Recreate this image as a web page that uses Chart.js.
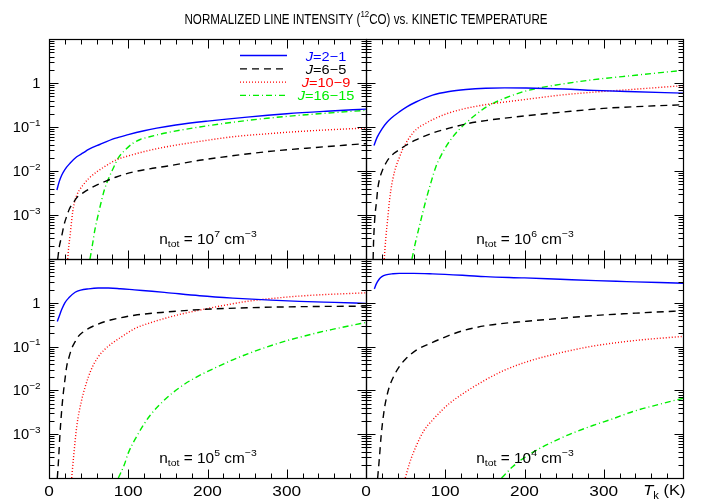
<!DOCTYPE html>
<html>
<head>
<meta charset="utf-8">
<title>Normalized line intensity vs kinetic temperature</title>
<script src="https://cdn.jsdelivr.net/npm/chart.js@4.4.0/dist/chart.umd.min.js"></script>
<style>
  html, body { margin: 0; padding: 0; background: #fff; }
  #wrap { position: relative; width: 701px; height: 499px; }
  #wrap canvas { position: absolute; left: 0; top: 0; }
</style>
</head>
<body>
<div id="wrap">
  <canvas id="n7" width="701" height="499"></canvas>
  <canvas id="n6" width="701" height="499"></canvas>
  <canvas id="n5" width="701" height="499"></canvas>
  <canvas id="n4" width="701" height="499"></canvas>
</div>
<script>
// [T_k (K), normalized intensity] for each CO transition, one list per density
const n7_J2_1 = [[10, 0.0037], [13, 0.0058], [16, 0.0080], [20, 0.0108], [26.5, 0.015], [35, 0.021], [43, 0.0257], [50, 0.031], [64, 0.040], [83, 0.055], [100, 0.067], [120, 0.082], [136, 0.094], [160, 0.111], [200, 0.136], [250, 0.168], [300, 0.20], [350, 0.228], [400, 0.255]];
const n7_J6_5 = [[11, 1.0e-4], [13, 1.9e-4], [16, 3.3e-4], [19, 6.0e-4], [22.3, 9.3e-4], [26, 1.4e-3], [30.7, 1.9e-3], [36, 2.6e-3], [42, 3.1e-3], [49.6, 3.8e-3], [60, 4.8e-3], [71, 5.8e-3], [85, 7.3e-3], [106, 9.5e-3], [127, 0.0112], [150, 0.013], [190, 0.0175], [230, 0.022], [275, 0.0275], [325, 0.033], [400, 0.042]];
const n7_J10_9 = [[23.6, 1.0e-4], [25, 2.0e-4], [26.5, 3.3e-4], [28.6, 7.5e-4], [30, 1.2e-3], [32, 1.9e-3], [35, 2.8e-3], [38, 3.6e-3], [43, 4.8e-3], [50, 6.7e-3], [60, 9.5e-3], [70, 0.0125], [77, 0.015], [85, 0.018], [100, 0.022], [125, 0.029], [150, 0.036], [190, 0.047], [232, 0.060], [275, 0.070], [325, 0.081], [400, 0.095]];
const n7_J16_15 = [[51.7, 1.0e-4], [55, 2.2e-4], [58, 4.7e-4], [62, 1.0e-3], [66.5, 2.2e-3], [70, 3.8e-3], [74.8, 6.5e-3], [80, 0.0105], [87.5, 0.0198], [96, 0.030], [106, 0.043], [115, 0.052], [127, 0.060], [150, 0.075], [190, 0.10], [232, 0.128], [275, 0.158], [325, 0.19], [400, 0.24]];

const n6_J2_1 = [[10, 0.038], [14, 0.058], [20, 0.09], [26, 0.125], [32, 0.16], [42, 0.22], [52, 0.29], [63, 0.37], [84, 0.53], [105, 0.64], [126, 0.71], [151, 0.76], [175, 0.775], [202, 0.77], [250, 0.73], [287, 0.68], [330, 0.64], [400, 0.59]];
const n6_J6_5 = [[9, 1.0e-4], [9.5, 2.3e-4], [11, 8.0e-4], [13.5, 2.2e-3], [14.7, 3.8e-3], [18, 7.5e-3], [21, 0.0107], [25, 0.015], [29.4, 0.0198], [35, 0.025], [42, 0.0305], [50, 0.038], [63, 0.051], [84, 0.073], [105, 0.094], [126, 0.117], [151, 0.14], [200, 0.178], [250, 0.22], [300, 0.265], [350, 0.295], [400, 0.32]];
const n6_J10_9 = [[23, 1.0e-4], [25, 3.0e-4], [27.3, 7.9e-4], [29.5, 2.0e-3], [31.5, 3.8e-3], [34, 6.8e-3], [37.9, 0.0127], [42, 0.020], [46, 0.0305], [55, 0.058], [63, 0.087], [75, 0.12], [84, 0.147], [100, 0.195], [120, 0.25], [150, 0.32], [175, 0.37], [200, 0.42], [245, 0.53], [287, 0.62], [329, 0.70], [400, 0.87]];
const n6_J16_15 = [[58, 1.0e-4], [62, 2.2e-4], [67.3, 5.5e-4], [75.7, 2.2e-3], [82, 5.5e-3], [88.3, 0.0127], [95, 0.023], [101, 0.036], [113.6, 0.073], [126, 0.123], [140, 0.20], [151, 0.28], [161, 0.35], [175, 0.45], [203, 0.67], [245, 0.93], [287, 1.19], [340, 1.5], [400, 1.94]];

const n5_J2_1 = [[10.5, 0.376], [13, 0.5], [16, 0.7], [20, 1.0], [25, 1.3], [33, 1.74], [40, 1.95], [50, 2.08], [62, 2.17], [75, 2.18], [90, 2.1], [108, 1.97], [130, 1.83], [148, 1.71], [190, 1.45], [232, 1.28], [280, 1.15], [316, 1.08], [360, 1.02], [400, 0.97]];
const n5_J6_5 = [[10.5, 1.0e-4], [12, 2.5e-4], [13.9, 1.05e-3], [16, 3.5e-3], [18, 8.5e-3], [20, 0.017], [22.3, 0.035], [25, 0.055], [28.6, 0.09], [33, 0.13], [37, 0.171], [43, 0.215], [50, 0.26], [58, 0.305], [70, 0.37], [79, 0.41], [108, 0.52], [150, 0.62], [190, 0.70], [250, 0.77], [316, 0.815], [400, 0.84]];
const n5_J10_9 = [[28.6, 1.0e-4], [31, 3.0e-4], [35, 1.5e-3], [41.2, 6.0e-3], [49.6, 0.020], [55, 0.035], [62, 0.058], [70, 0.085], [79, 0.117], [90, 0.16], [108, 0.256], [130, 0.36], [148, 0.45], [170, 0.57], [190, 0.68], [220, 0.87], [253, 1.1], [290, 1.3], [330, 1.48], [400, 1.69]];
const n5_J16_15 = [[87.5, 1.0e-4], [95, 2.0e-4], [100, 3.7e-4], [110, 8.5e-4], [127, 2.6e-3], [148, 6.6e-3], [170, 0.0135], [190, 0.022], [210, 0.033], [232, 0.050], [255, 0.073], [275, 0.098], [296, 0.13], [316, 0.163], [340, 0.21], [359, 0.25], [380, 0.30], [400, 0.355]];

const n4_J2_1 = [[10.5, 2.08], [13, 2.7], [16.8, 3.5], [20, 3.95], [25, 4.33], [34, 4.6], [42, 4.7], [60, 4.7], [84, 4.57], [126, 4.2], [151, 3.96], [200, 3.7], [245, 3.44], [290, 3.2], [329, 3.05], [370, 2.9], [400, 2.8]];
const n4_J6_5 = [[14.7, 1.0e-4], [17, 3.0e-4], [19, 8.8e-4], [23, 3.6e-3], [26, 7.0e-3], [29.4, 0.012], [35, 0.021], [42, 0.035], [50, 0.052], [63, 0.082], [84, 0.125], [105, 0.18], [122, 0.23], [151, 0.30], [203, 0.38], [245, 0.44], [287, 0.51], [340, 0.58], [400, 0.66]];
const n4_J10_9 = [[49.6, 1.0e-4], [55, 2.2e-4], [63, 5.2e-4], [73, 1.2e-3], [84, 2.1e-3], [95, 3.4e-3], [105, 5.0e-3], [126, 9.3e-3], [151, 0.0175], [175, 0.029], [203, 0.045], [245, 0.072], [287, 0.103], [340, 0.138], [400, 0.171]];
const n4_J16_15 = [[171, 1.0e-4], [185, 1.8e-4], [203, 3.2e-4], [245, 8.0e-4], [287, 1.6e-3], [310, 2.2e-3], [337, 3.3e-3], [370, 4.8e-3], [400, 6.6e-3]];

const transitions = ['2\u22121', '6\u22125', '10\u22129', '16\u221215'];
const densityExp = [7, 6, 5, 4];
const xTickLabels = [0, 100, 200, 300];
const yTickExp = [0, -1, -2, -3];

// line looks per transition
const lineColors = ['#0000ff', '#000000', '#ff0000', '#00ee00'];
const lineDashes = [[], [7, 5], [1, 2], [6, 3, 1, 3]];

const FONT = '"Liberation Sans", Arial, sans-serif';

// ---- small rich-text helper: [{t, kind}] with kind '', 'sup', 'sub', 'it'
function seg(t, kind) { return { t: t, kind: kind || '' }; }

function segFont(p, size) {
  const small = p.kind === 'sup' || p.kind === 'sub';
  const px = small ? size * 0.68 : size;
  return (p.kind === 'it' ? 'italic ' : '') + px.toFixed(1) + 'px ' + FONT;
}

function drawRich(ctx, parts, x, y, size, align, sx) {
  sx = sx || 1;
  let w = 0;
  parts.forEach(p => { ctx.font = segFont(p, size); w += ctx.measureText(p.t).width; });
  ctx.save();
  ctx.translate(x, y);
  ctx.scale(sx, 1);
  let cx = align === 'center' ? -w / 2 : align === 'right' ? -w : 0;
  ctx.textAlign = 'left';
  ctx.textBaseline = 'alphabetic';
  parts.forEach(p => {
    ctx.font = segFont(p, size);
    const dy = p.kind === 'sup' ? -size * 0.45 : p.kind === 'sub' ? size * 0.28 : 0;
    ctx.fillText(p.t, cx, dy);
    cx += ctx.measureText(p.t).width;
  });
  ctx.restore();
}

// ---- frame, inward ticks, labels, legend and title
const framePlugin = {
  id: 'frame',
  afterDraw(chart, args, opts) {
    const ctx = chart.ctx;
    const xs = chart.scales.x, ys = chart.scales.y;
    const L = Math.round(xs.getPixelForValue(0)) + 0.5;
    const R = Math.round(xs.getPixelForValue(400)) + 0.5;
    const T = Math.round(ys.getPixelForValue(10)) + 0.5;
    const B = Math.round(ys.getPixelForValue(1e-4)) + 0.5;

    ctx.save();
    ctx.strokeStyle = '#000';
    ctx.lineWidth = 1.2;
    ctx.setLineDash([]);
    ctx.strokeRect(L, T, R - L, B - T);

    ctx.lineWidth = 1;
    ctx.beginPath();
    for (let v = 0; v <= 400; v += 20) {
      const len = v % 100 === 0 ? 9 : 5;
      const px = Math.round(xs.getPixelForValue(v)) + 0.5;
      ctx.moveTo(px, T); ctx.lineTo(px, T + len);
      ctx.moveTo(px, B); ctx.lineTo(px, B - len);
    }
    for (let e = -4; e <= 1; e++) {
      for (let m = 1; m <= 9; m++) {
        const v = m * Math.pow(10, e);
        if (v > 10) break;
        const len = m === 1 ? 9 : 5;
        const py = Math.round(ys.getPixelForValue(v)) + 0.5;
        ctx.moveTo(L, py); ctx.lineTo(L + len, py);
        ctx.moveTo(R, py); ctx.lineTo(R - len, py);
      }
    }
    ctx.stroke();

    ctx.fillStyle = '#000';
    if (opts.col === 0) {
      yTickExp.forEach(e => {
        const py = ys.getPixelForValue(Math.pow(10, e));
        const parts = e === 0 ? [seg('1')] : [seg('10'), seg('\u2212' + (-e), 'sup')];
        drawRich(ctx, parts, L - 9, py + 5, 14, 'right', 1.05);
      });
    }
    if (opts.row === 1) {
      xTickLabels.forEach(v => {
        drawRich(ctx, [seg(String(v))], xs.getPixelForValue(v), B + 17, 15, 'center', 1.15);
      });
      if (opts.col === 1) {
        drawRich(ctx, [seg('T', 'it'), seg('k', 'sub'), seg(' (K)')], R + 2, B + 16, 15, 'right', 1.1);
      }
    }

    // density note at the foot of each panel
    drawRich(ctx, [seg('n'), seg('tot', 'sub'), seg(' = 10'), seg(String(opts.exp), 'sup'),
                   seg(' cm'), seg('\u22123', 'sup')],
             (L + R) / 2, B - 16, 14, 'center', 1.1);

    if (opts.legend) {
      chart.data.datasets.forEach((ds, i) => {
        const y = 55.5 + i * 13.3;
        ctx.strokeStyle = ds.borderColor;
        ctx.lineWidth = 1.3;
        ctx.setLineDash(ds.borderDash);
        ctx.beginPath();
        ctx.moveTo(240, y); ctx.lineTo(287, y);
        ctx.stroke();
        ctx.setLineDash([]);
        ctx.fillStyle = ds.borderColor;
        drawRich(ctx, [seg('J', 'it'), seg('=' + ds.label)], 326, y + 5, 13, 'center', 1.12);
      });
      ctx.fillStyle = '#000';
      drawRich(ctx, [seg('NORMALIZED LINE INTENSITY ('), seg('12', 'sup'),
                     seg('CO) vs. KINETIC TEMPERATURE')], 366, 24, 14.5, 'center', 0.8);
    }
    ctx.restore();
  }
};

function makePanel(id, series, exp, row, col) {
  const left = col ? 366 : 49, right = col ? 683 : 366;
  const top = row ? 259 : 39, bottom = row ? 478 : 259;
  return new Chart(document.getElementById(id), {
    type: 'line',
    data: {
      datasets: series.map((pts, i) => ({
        label: transitions[i],
        data: pts.map(p => ({ x: p[0], y: p[1] })),
        borderColor: lineColors[i],
        borderDash: lineDashes[i],
        borderWidth: 1.4,
        pointRadius: 0,
        cubicInterpolationMode: 'monotone',
        fill: false,
        clip: 0
      }))
    },
    options: {
      responsive: false,
      animation: false,
      devicePixelRatio: 1,
      events: [],
      layout: { padding: { left: left, top: top, right: 701 - right, bottom: 499 - bottom } },
      plugins: {
        legend: { display: false },
        tooltip: { enabled: false },
        frame: { row: row, col: col, exp: exp, legend: row === 0 && col === 0 }
      },
      scales: {
        x: { type: 'linear', min: 0, max: 400, display: false },
        y: { type: 'logarithmic', min: 1e-4, max: 10, display: false }
      }
    },
    plugins: [framePlugin]
  });
}

makePanel('n7', [n7_J2_1, n7_J6_5, n7_J10_9, n7_J16_15], densityExp[0], 0, 0);
makePanel('n6', [n6_J2_1, n6_J6_5, n6_J10_9, n6_J16_15], densityExp[1], 0, 1);
makePanel('n5', [n5_J2_1, n5_J6_5, n5_J10_9, n5_J16_15], densityExp[2], 1, 0);
makePanel('n4', [n4_J2_1, n4_J6_5, n4_J10_9, n4_J16_15], densityExp[3], 1, 1);
</script>
</body>
</html>
